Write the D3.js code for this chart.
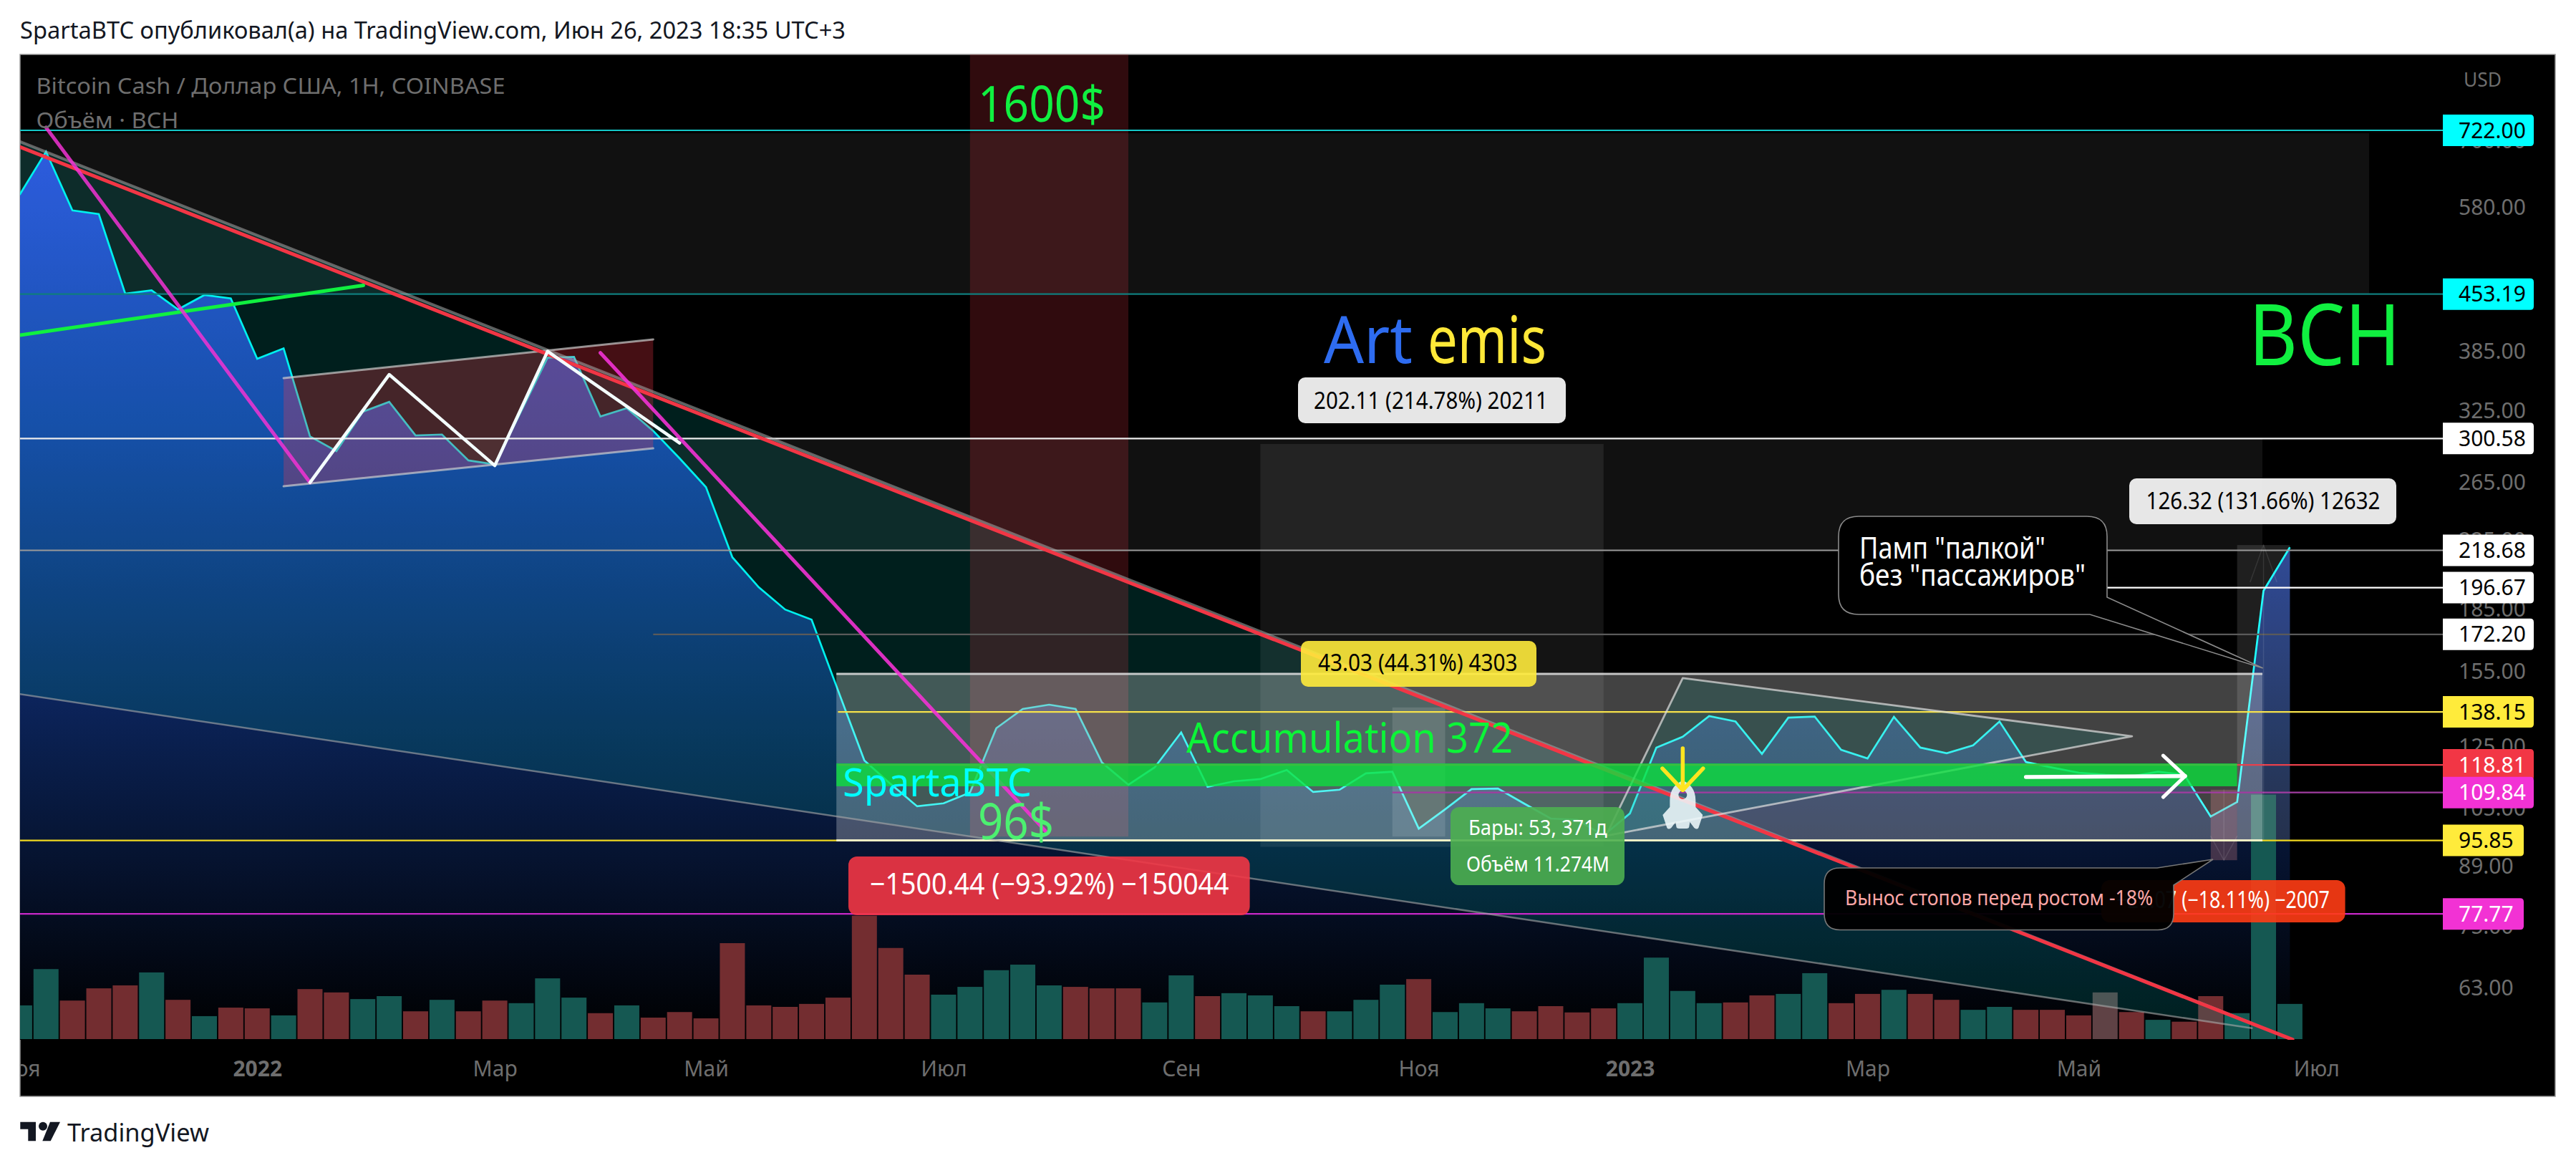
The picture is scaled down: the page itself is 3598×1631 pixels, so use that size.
<!DOCTYPE html>
<html lang="ru">
<head>
<meta charset="utf-8">
<title>BCH</title>
<script src="https://cdn.jsdelivr.net/npm/d3@7/dist/d3.min.js"></script>
<style>
html,body{margin:0;padding:0;background:#fff}
svg{display:block}
text{font-family:"Noto Sans","Open Sans",sans-serif}
</style>
</head>
<body>
<svg id="c" width="3598" height="1631"></svg>
<script>
// ---------- data (bar index = weeks from the first visible bar) ----------
const closes = [601.1,679.5,574.9,568.9,453.8,458.2,433.9,452.0,447.6,377.0,388.4,302.4,290.0,324.3,333.6,303.2,304.0,282.4,279.2,324.9,378.2,379.0,320.0,327.6,307.2,284.1,261.7,214.4,196.9,184.8,179.6,146.9,120.3,112.5,105.6,106.5,109.8,131.9,139.3,141.0,139.3,119.6,112.3,118.0,130.3,111.6,113.4,114.1,117.1,110.0,110.7,116.0,116.5,99.1,104.7,110.9,111.1,106.4,102.0,101.6,97.2,103.5,124.8,128.7,136.5,134.4,122.6,135.9,136.3,124.0,121.0,136.2,124.8,122.8,125.6,134.4,119.8,117.9,116.2,115.5,115.0,116.5,115.5,102.6,106.9,194.9,220.6];
const volumes = [182,378,208,274,290,360,212,124,170,166,128,270,252,216,232,150,212,150,208,194,328,224,140,182,116,146,112,518,182,174,190,224,666,492,348,240,282,372,402,290,282,274,274,198,344,232,248,236,178,150,150,212,294,324,146,194,166,150,178,144,166,194,440,260,194,198,236,244,356,194,244,266,244,212,158,174,158,158,128,252,146,104,94,232,140,1320,190];
const volumeUp = [1,1,0,0,0,1,0,1,0,0,1,0,0,1,1,0,1,0,0,1,1,1,0,1,0,0,0,0,0,0,0,0,0,0,0,1,1,1,1,1,0,0,0,1,1,0,1,1,1,0,1,1,1,0,1,1,1,0,0,0,0,1,1,1,1,0,0,1,1,0,0,1,0,0,1,1,0,0,0,0,0,1,0,0,1,1,1];
const priceTicks = [700,580,385,325,265,225,185,155,125,105,89,75,63];
const timeTickIndex = [0,9,18,26,35,44,53,61,70,78,87];
const timeTickLabels = ["Ноя","2022","Мар","Май","Июл","Сен","Ноя","2023","Мар","Май","Июл"];
const levelPrices = [722,453.19,300.58,218.68,196.67,172.20,138.15,118.81,109.84,95.85,77.77];
const levelLabels = ["722.00","453.19","300.58","218.68","196.67","172.20","138.15","118.81","109.84","95.85","77.77"];
const levelStartIndex = [0,0,0,0,69,24,31,31,52,0,0];

// ---------- drawing objects, in [bar index, price] ----------
const trendRed = [[0,689],[86.1,54.4]];
const wedgeUpper = [[0,699.3],[84.56,57.0]];
const wedgeLower = [[0,145.3],[84.56,56.2]];
const greenTrend = [[0,403.2],[13.02,464.6]];
const pinkOne = [[1,728],[11,265.2]];
const pinkTwo = [[22,383.5],[38.9,98.1]];
const channelPoly = [[10,356.9],[24,398.4],[24,292.3],[10,262.4]];
const zigzag = [[11,265.2],[14,360.5],[18,278.3],[20,385.1],[25,296.7]];
const triangle = [[60.09,97.1],[63,152.1],[80.02,128.9]];
const whiteShaft = [[76,114.8],[82.03,115.1]];
const whiteHead = [[81.2,122.0],[82.03,115.1],[81.2,108.4]];
const yellowShaft = [[63,124.5],[63,110.6]];
const yellowHead = [[62.23,117.6],[63,110.6],[63.77,117.6]];
const rocketAt = [63,109.1];
const zoneBands = [[0,89,716,453.19],[0,84.96,300.58,218.68]];
const zoneRed = [36,42,96.9];
const zoneArt = [47,60,295.9,94.1];
const zoneNarrow = [52,54,139.9,96.9];
const zoneAccum = [30.94,84.96,153.9,95.85];
const zoneGreen = [30.94,84,119.3,111.8];
const zonePump = [84,86,222.0,95.94];
const zoneStop = [83,84,110.7,90.6];
const paleBar = 79;

// ---------- layout and scales ----------
const W=3598,H=1631, frameL=28, frameT=76, frameR=3569, frameB=1531;
const paneR=3412, paneB=1452, axisTextX=3434;
const x=d3.scaleLinear().domain([0,86]).range([27.4,3198.4]);
const y=d3.scaleLog().domain([722,63]).range([182,1379.6]);
const vy=d3.scaleLinear().domain([0,1320]).range([1451,1109.6]);
const svg=d3.select("#c");
const defs=svg.append("defs");
defs.append("clipPath").attr("id","pane").append("rect").attr("x",frameL).attr("y",frameT).attr("width",paneR-frameL).attr("height",paneB-frameT);
defs.append("clipPath").attr("id","timeclip").append("rect").attr("x",frameL).attr("y",paneB).attr("width",frameR-frameL).attr("height",frameB-paneB);
const grad=defs.append("linearGradient").attr("id","areaGrad").attr("gradientUnits","userSpaceOnUse").attr("x1",0).attr("x2",0).attr("y1",212).attr("y2",1451);
[[0,"rgb(55,75,235)"],[0.313,"rgb(27,60,170)"],[0.66,"rgb(10,32,80)"],[1,"rgb(0,0,0)"]].forEach(s=>grad.append("stop").attr("offset",s[0]).attr("stop-color",s[1]));

svg.append("rect").attr("width",W).attr("height",H).attr("fill","#fff");
svg.append("rect").attr("x",frameL).attr("y",frameT).attr("width",frameR-frameL).attr("height",frameB-frameT).attr("fill","#000").attr("stroke","#9a9a9a").attr("stroke-width",1.5);

function txt(g,xp,yp,s,o){
  const t=g.append("text").attr("x",xp).attr("y",yp).text(s).attr("font-size",o.size).attr("fill",o.fill);
  if(o.width) t.attr("textLength",o.width).attr("lengthAdjust","spacingAndGlyphs");
  if(o.weight) t.attr("font-weight",o.weight);
  return t;
}
const pt=p=>[x(p[0]),y(p[1])];
const lineGen=d3.line().x(p=>x(p[0])).y(p=>y(p[1]));
function poly(g,pts,fill,stroke,sw){
  return g.append("path").attr("d",lineGen(pts)).attr("fill",fill||"none").attr("stroke",stroke||"none").attr("stroke-width",sw||0).attr("stroke-linecap","round").attr("stroke-linejoin","round");
}
function zone(g,z,fill){
  g.append("rect").attr("x",x(z[0])).attr("width",x(z[1])-x(z[0])).attr("y",y(z[2])).attr("height",y(z[3])-y(z[2])).attr("fill",fill);
}

const pane=svg.append("g").attr("clip-path","url(#pane)");

// bands sit beneath the area
zoneBands.forEach(z=>zone(pane,z,"rgba(255,255,255,0.067)"));

// area and line
const indexed=closes.map((c,i)=>[i,c]);
pane.append("path").attr("d",d3.area().x(d=>x(d[0])).y0(paneB).y1(d=>y(d[1]))(indexed)).attr("fill","url(#areaGrad)");
pane.append("path").attr("d",lineGen(indexed)).attr("fill","none").attr("stroke","#00ffff").attr("stroke-width",2.7).attr("stroke-linejoin","miter");

// volume
pane.append("g").selectAll("rect").data(volumes).join("rect")
  .attr("x",(v,i)=>x(i)-17.5).attr("width",35)
  .attr("y",v=>vy(v)).attr("height",v=>vy(0)-vy(v))
  .attr("fill",(v,i)=>i===paleBar?"#5f4245":(volumeUp[i]?"#155852":"#732d30"));

// wedge
poly(pane,[wedgeUpper[0],wedgeUpper[1],wedgeLower[1],wedgeLower[0]],"rgba(0,170,160,0.18)");
pane.append("rect").attr("x",x(zoneRed[0])).attr("width",x(zoneRed[1])-x(zoneRed[0])).attr("y",frameT).attr("height",y(zoneRed[2])-frameT).attr("fill","rgba(242,54,69,0.2)");
zone(pane,zoneArt,"rgba(255,255,255,0.08)");
zone(pane,zoneAccum,"rgba(255,255,255,0.26)");
zone(pane,zoneNarrow,"rgba(255,255,255,0.12)");
poly(pane,triangle.concat([triangle[0]]),"rgba(0,160,150,0.15)");
zone(pane,zonePump,"rgba(255,255,255,0.12)");
zone(pane,zoneStop,"rgba(232,140,144,0.27)");
// channel
poly(pane,channelPoly,"rgba(255,55,74,0.27)");
poly(pane,channelPoly.slice(0,2),null,"rgba(205,205,205,0.7)",3);
poly(pane,channelPoly.slice(2),null,"rgba(205,205,205,0.7)",3);

// levels
const levelColours=["#14c8c8","#0f7d7d","#ececec","#9a9a9a","#ffffff","#5a5a5a","#f5e14a","#e8404c","#a03ca0","#f0d820","#c828c8"];
levelPrices.forEach((p,i)=>{
  pane.append("line").attr("x1",x(levelStartIndex[i])).attr("x2",paneR).attr("y1",y(p)).attr("y2",y(p)).attr("stroke",levelColours[i]).attr("stroke-width",2.2);
});
// accumulation borders
[zoneAccum[2],zoneAccum[3]].forEach((p,k)=>{
  pane.append("line").attr("x1",x(zoneAccum[0])).attr("x2",x(zoneAccum[1])).attr("y1",y(p)).attr("y2",y(p)).attr("stroke",k?"rgba(255,255,235,0.8)":"rgba(225,225,225,0.85)").attr("stroke-width",3);
});
// trends
poly(pane,wedgeUpper,null,"rgba(170,170,170,0.55)",4);
poly(pane,wedgeLower,null,"rgba(170,170,170,0.6)",2.5);
poly(pane,trendRed,null,"rgba(242,54,69,1)",5);
poly(pane,greenTrend,null,"#10f040",5);
poly(pane,pinkOne,null,"rgba(242,50,212,0.85)",5);
poly(pane,pinkTwo,null,"rgba(242,50,212,0.9)",5);
poly(pane,zigzag,null,"#f4ffff",4.5);

// triangle borders, above line
poly(pane,triangle.concat([triangle[0]]),null,"rgba(220,220,220,0.72)",2.8);

// faint range arrows
poly(pane,[[85,95.94],[85,222.0]],null,"rgba(255,255,255,0.1)",1.5);
poly(pane,[[84.5,200],[85,222.0],[85.5,200]],null,"rgba(255,255,255,0.1)",1.5);
poly(pane,[[83.5,110.7],[83.5,90.6]],null,"rgba(255,255,255,0.1)",1.5);
poly(pane,[[83,97],[83.5,90.6],[84,97]],null,"rgba(255,255,255,0.1)",1.5);

// green band
zone(pane,zoneGreen,"rgba(10,225,60,0.78)");

// arrows
poly(pane,whiteShaft,null,"#fff",5.5);
poly(pane,whiteHead,null,"#fff",5);

// rocket
const rk=pt(rocketAt);
pane.append("path").attr("transform",`translate(${rk[0]},${rk[1]})`)
 .attr("fill-rule","evenodd").attr("fill","rgba(238,248,250,0.88)")
 .attr("d","M0,-20C10,-16 18,-8 18,8L18,17L28,28L22,46Q20,49 16,46L10,38L9,44Q9,47 5,47L-5,47Q-9,47 -9,44L-10,38L-16,46Q-20,49 -22,46L-28,28L-18,17L-18,8C-18,-8 -10,-16 0,-20ZM6,0A6,6 0 1 0 -6,0A6,6 0 1 0 6,0Z");
poly(pane,yellowShaft,null,"#ffe420",5.5);
poly(pane,yellowHead,null,"#ffe420",5.5);

// ---------- labels ----------
function box(g,x0,y0,x1,y1,fill,r){
  g.append("rect").attr("x",x0).attr("y",y0).attr("width",x1-x0).attr("height",y1-y0).attr("rx",r||10).attr("fill",fill);
}
txt(pane,1366,170,"1600$",{size:70,fill:"#10f040",width:178});
txt(pane,1849,507,"Art",{size:92,fill:"#2e6cf0",width:124});
txt(pane,1994,507,"emis",{size:92,fill:"#ffe838",width:166});
txt(pane,3141,510,"BCH",{size:118,fill:"#10f040",width:212});
txt(pane,1657,1051,"Accumulation 372",{size:58,fill:"#0cf438",width:456});
txt(pane,1177,1111.7,"SpartaBTC",{size:54,fill:"#00ffff",width:264});
txt(pane,1366,1171.7,"96$",{size:70,fill:"#4cf070",width:106});

box(pane,1813,527,2187,591,"rgba(255,255,255,0.9)");
txt(pane,1835,571,"202.11 (214.78%) 20211",{size:32,fill:"#000",width:327});
box(pane,1817,895,2146,959,"rgba(255,235,59,0.9)");
txt(pane,1841,937,"43.03 (44.31%) 4303",{size:32,fill:"#000",width:278.6});
box(pane,2974,668,3347,732,"rgba(255,255,255,0.9)");
txt(pane,2997.5,711,"126.32 (131.66%) 12632",{size:32,fill:"#000",width:327});
box(pane,1185,1196,1745.6,1278,"rgba(242,54,69,0.9)",12);
txt(pane,1215,1249,"−1500.44 (−93.92%) −150044",{size:42,fill:"#fff",width:501.6});
box(pane,2026,1127,2269,1236,"rgba(76,175,80,0.9)",12);
txt(pane,2051,1165.6,"Бары: 53, 371д",{size:29,fill:"#fff",width:193.6});
txt(pane,2048,1217,"Объём 11.274M",{size:29,fill:"#fff",width:200});
box(pane,2935,1229,3275.6,1288,"rgba(255,60,20,0.9)",12);
txt(pane,2956,1267.5,"−20.07 (−18.11%) −2007",{size:32,fill:"#fff",width:298});

// callouts
pane.append("path").attr("fill","rgba(0,0,0,0.96)").attr("stroke","#777").attr("stroke-width",1.6)
 .attr("d","M2570,1212L3013,1212L3091,1200L3036,1236L3036,1276Q3036,1298.5 3014,1298.5L2570,1298.5Q2548,1298.5 2548,1276L2548,1234Q2548,1212 2570,1212Z");
txt(pane,2577,1264,"Вынос стопов перед ростом -18%",{size:29,fill:"#fba6a6",width:430});
pane.append("path").attr("fill","#000").attr("stroke","#8a8a8a").attr("stroke-width",1.6)
 .attr("d","M2596,721L2915,721Q2943,721 2943,749L2943,834L3160.7,933L2919,858L2596,858Q2568,858 2568,830L2568,749Q2568,721 2596,721Z");
txt(pane,2597,780,"Памп \"палкой\"",{size:42,fill:"#fff",width:260});
txt(pane,2597,818,"без \"пассажиров\"",{size:42,fill:"#fff",width:316});

// header texts
txt(svg,28,54,"SpartaBTC опубликовал(а) на TradingView.com, Июн 26, 2023 18:35 UTC+3",{size:32,fill:"#131722",width:1153});
txt(svg,50.5,130.7,"Bitcoin Cash / Доллар США, 1Н, COINBASE",{size:31,fill:"#6e6e6e",width:655});
txt(svg,50.5,178.9,"Объём · BCH",{size:31,fill:"#6e6e6e",width:199});
txt(svg,3441,121,"USD",{size:28,fill:"#6e6e6e",width:53});

// axes
const yAxis=d3.axisRight(y).tickValues(priceTicks).tickFormat(d3.format(".2f")).tickSize(0).tickPadding(axisTextX-paneR);
const yg=svg.append("g").attr("transform",`translate(${paneR},0)`).call(yAxis);
yg.select(".domain").remove();
yg.selectAll("text").attr("fill","#6e6e6e").attr("font-size",30).attr("font-family",'"Noto Sans",sans-serif');

const xAxis=d3.axisBottom(x).tickValues(timeTickIndex).tickFormat((d,i)=>timeTickLabels[i]).tickSize(0).tickPadding(29.7);
const xg=svg.append("g").attr("clip-path","url(#timeclip)").append("g").attr("transform",`translate(0,${paneB})`).call(xAxis);
xg.select(".domain").remove();
xg.selectAll("text").attr("fill","#6e6e6e").attr("font-size",30).attr("font-family",'"Noto Sans",sans-serif')
  .attr("font-weight",(d,i)=>/^20/.test(timeTickLabels[i])?"700":"400");

// price labels on axis
const labelFill=["#00ffff","#00ffff","#ffffff","#ffffff","#ffffff","#ffffff","#ffeb3b","#f23645","#f232d4","#ffeb3b","#f232d4"];
const labelInk=["#000","#000","#000","#000","#000","#000","#000","#fff","#fff","#000","#fff"];
const axisLabels=svg.append("g");
levelPrices.forEach((p,i)=>{
  const w=levelLabels[i].length===6?127:113;
  axisLabels.append("path").attr("fill",labelFill[i])
    .attr("d",`M${paneR},${y(p)-22}L${paneR+w-5},${y(p)-22}Q${paneR+w},${y(p)-22} ${paneR+w},${y(p)-17}L${paneR+w},${y(p)+17}Q${paneR+w},${y(p)+22} ${paneR+w-5},${y(p)+22}L${paneR},${y(p)+22}Z`);
  axisLabels.append("text").attr("x",axisTextX).attr("y",y(p)).attr("dy","0.35em").attr("font-size",30).attr("fill",labelInk[i]).text(levelLabels[i]);
});

// footer logo
const foot=svg.append("g").attr("fill","#131722");
foot.append("path").attr("d","M28.3,1566.7H50V1593.3H39.3V1576.7H28.3Z");
foot.append("circle").attr("cx",60).attr("cy",1572.7).attr("r",6);
foot.append("path").attr("d","M70,1566.7H84L70.7,1593.3H59.3Z");
txt(foot,94,1594,"TradingView",{size:34,fill:"#131722",width:198});
</script>
</body>
</html>
